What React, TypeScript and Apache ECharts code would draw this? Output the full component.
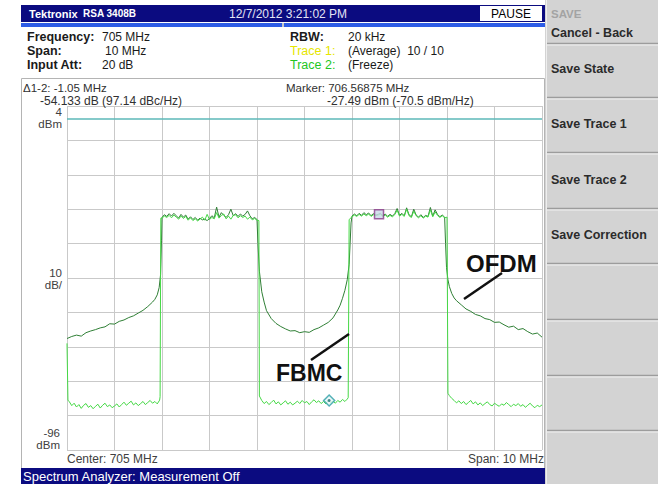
import React, { useEffect, useRef } from "react";
import * as echarts from "echarts";

type Pt = [number, number];

// ---- axes ----
const FREQ_MIN = 700;
const FREQ_MAX = 710;
const FREQ_DIV = 1;
const AMP_TOP = 4;
const AMP_BOTTOM = -96;
const AMP_DIVS = 10;
const REF_LEVEL = 0.4;

const yTickLabels = [["4", "dBm"], ["10", "dB/"], ["-96", "dBm"]];
const footerLabels = ["Center: 705 MHz", "Span: 10 MHz"];

// ---- header texts ----
const titleTexts = ["Tektronix", "RSA 3408B", "12/7/2012 3:21:02 PM", "PAUSE"];
const headerLeft = [["Frequency:", "705 MHz"], ["Span:", "10 MHz"], ["Input Att:", "20 dB"]];
const headerRight = [["RBW:", "20 kHz"], ["Trace 1:", "(Average)  10 / 10"], ["Trace 2:", "(Freeze)"]];
const markerTexts = ["\u03941-2: -1.05 MHz", "-54.133 dB (97.14 dBc/Hz)", "Marker: 706.56875 MHz", "-27.49 dBm (-70.5 dBm/Hz)"];
const softKeyTitle = "SAVE";
const softKeys = ["Cancel - Back", "Save State", "Save Trace 1", "Save Trace 2", "Save Correction"];
const statusText = "Spectrum Analyzer: Measurement Off";
const annotations = ["OFDM", "FBMC"];

// ---- markers (MHz, dBm) ----
const marker1: Pt = [706.56875, -27.49];
const marker2: Pt = [705.51875, -81.623];

// ---- OFDM trace (Trace 1, average) ----
const ofdmLeftSkirt: Pt[] = [
  [700.0, -63.6], [700.1, -63.0], [700.2, -62.6], [700.3, -62.9], [700.4, -61.9], [700.5, -61.4],
  [700.6, -61.0], [700.7, -60.5], [700.8, -60.2], [700.9, -59.3], [701.0, -59.4], [701.1, -58.6],
  [701.2, -58.2], [701.3, -57.5], [701.4, -57.0], [701.5, -56.2], [701.6, -55.4], [701.7, -54.3],
  [701.8, -53.0], [701.85, -52.2], [701.9, -50.9], [701.94, -48.8], [701.97, -45.0], [701.99, -35.0],
];
const ofdmBand1: Pt[] = [
  [702.0, -28.4], [702.05, -27.6], [702.1, -28.1], [702.15, -27.3], [702.2, -28.0], [702.25, -27.2],
  [702.3, -27.9], [702.35, -28.6], [702.4, -27.5], [702.45, -28.3], [702.5, -27.7], [702.55, -28.9],
  [702.6, -28.2], [702.65, -29.0], [702.7, -28.4], [702.75, -29.2], [702.8, -28.6], [702.85, -29.1],
  [702.9, -28.9], [702.95, -29.3], [703.0, -28.7], [703.05, -27.9], [703.1, -28.5], [703.15, -25.4],
  [703.2, -28.3], [703.25, -27.0], [703.3, -27.8], [703.35, -28.4], [703.4, -27.6], [703.45, -26.0],
  [703.5, -27.9], [703.55, -27.3], [703.6, -28.1], [703.65, -27.4], [703.7, -28.0], [703.75, -27.5],
  [703.8, -26.5], [703.85, -27.9], [703.9, -28.8], [703.95, -28.4], [704.0, -29.0],
];
const ofdmGap: Pt[] = [
  [704.02, -36.0], [704.05, -44.0], [704.1, -50.0], [704.15, -53.0], [704.2, -55.5], [704.3, -57.8],
  [704.4, -59.2], [704.5, -60.1], [704.6, -60.8], [704.7, -61.4], [704.8, -61.3], [704.9, -61.9],
  [705.0, -61.6], [705.1, -61.8], [705.2, -61.0], [705.3, -60.5], [705.4, -59.7], [705.5, -58.9],
  [705.6, -57.6], [705.7, -55.3], [705.75, -53.9], [705.8, -51.9], [705.85, -49.6], [705.9, -46.5],
  [705.94, -42.0], [705.96, -36.0], [705.98, -30.0],
];
const ofdmBand2: Pt[] = [
  [706.0, -28.0], [706.05, -27.4], [706.1, -27.9], [706.15, -27.2], [706.2, -27.8], [706.25, -27.0],
  [706.3, -27.6], [706.35, -27.1], [706.4, -27.9], [706.45, -27.3], [706.5, -27.7], [706.55, -27.5],
  [706.6, -27.2], [706.65, -27.9], [706.7, -27.4], [706.75, -28.1], [706.8, -27.5], [706.85, -28.0],
  [706.9, -27.3], [706.95, -25.8], [707.0, -27.8], [707.05, -27.2], [707.1, -27.9], [707.15, -25.6],
  [707.2, -27.6], [707.25, -28.2], [707.3, -26.0], [707.35, -27.7], [707.4, -28.3], [707.45, -27.6],
  [707.5, -28.4], [707.55, -27.8], [707.6, -28.1], [707.65, -25.5], [707.7, -28.0], [707.75, -26.2],
  [707.8, -27.5], [707.85, -28.2], [707.9, -27.7], [707.95, -28.3],
];
const ofdmRightSkirt: Pt[] = [
  [707.97, -36.0], [707.99, -43.0], [708.02, -46.5], [708.05, -48.5], [708.1, -50.5], [708.15, -51.8],
  [708.2, -52.6], [708.3, -53.8], [708.4, -55.0], [708.5, -55.7], [708.6, -56.6], [708.7, -57.0],
  [708.8, -57.8], [708.9, -58.1], [709.0, -58.9], [709.1, -58.8], [709.2, -59.6], [709.3, -60.3],
  [709.4, -60.0], [709.5, -61.0], [709.6, -60.7], [709.7, -61.6], [709.8, -62.3], [709.9, -62.0],
  [710.0, -63.2],
];

// ---- FBMC trace (Trace 2, freeze) ----
const fbmcLeftFloor: Pt[] = [
  [700.0, -65.0], [700.02, -81.5], [700.05, -82.0], [700.1, -83.1], [700.15, -82.4], [700.2, -83.5],
  [700.25, -82.8], [700.3, -83.9], [700.35, -83.0], [700.4, -82.5], [700.45, -83.6], [700.5, -83.1],
  [700.55, -84.0], [700.6, -83.3], [700.65, -82.7], [700.7, -83.8], [700.75, -83.0], [700.8, -82.4],
  [700.85, -83.4], [700.9, -82.9], [700.95, -83.7], [701.0, -83.2], [701.05, -82.6], [701.1, -83.5],
  [701.15, -82.8], [701.2, -82.1], [701.25, -83.0], [701.3, -82.4], [701.35, -81.8], [701.4, -82.9],
  [701.45, -82.3], [701.5, -83.1], [701.55, -82.5], [701.6, -81.9], [701.65, -82.8], [701.7, -82.2],
  [701.75, -81.6], [701.8, -82.4], [701.85, -81.9], [701.9, -82.6], [701.95, -81.5], [701.96, -80.5],
];
const fbmcBand1: Pt[] = [
  [701.975, -28.6], [702.0, -28.6], [702.05, -28.0], [702.1, -28.4], [702.15, -27.8], [702.2, -28.5],
  [702.25, -27.7], [702.3, -28.3], [702.35, -28.9], [702.4, -28.0], [702.45, -28.7], [702.5, -28.1],
  [702.55, -29.2], [702.6, -28.5], [702.65, -29.3], [702.7, -28.8], [702.75, -29.4], [702.8, -28.9],
  [702.85, -28.3], [702.9, -29.2], [702.95, -27.5], [703.0, -29.0], [703.05, -28.4], [703.1, -28.8],
  [703.15, -27.0], [703.2, -28.6], [703.25, -27.8], [703.3, -27.4], [703.35, -28.8], [703.4, -28.0],
  [703.45, -28.9], [703.5, -27.8], [703.55, -27.6], [703.6, -28.5], [703.65, -27.9], [703.7, -28.4],
  [703.75, -28.0], [703.8, -28.9], [703.85, -28.3], [703.9, -29.1], [703.95, -28.7], [704.0, -29.2],
  [704.04, -29.3],
];
const fbmcMidFloor: Pt[] = [
  [704.05, -80.3], [704.1, -81.6], [704.15, -82.5], [704.2, -81.9], [704.25, -82.8], [704.3, -82.2],
  [704.35, -81.5], [704.4, -82.6], [704.45, -82.0], [704.5, -82.9], [704.55, -82.3], [704.6, -81.7],
  [704.65, -82.7], [704.7, -82.1], [704.75, -82.9], [704.8, -82.4], [704.85, -81.8], [704.9, -82.5],
  [704.95, -81.6], [705.0, -82.3], [705.05, -81.9], [705.1, -82.8], [705.15, -82.0], [705.2, -81.4],
  [705.25, -82.2], [705.3, -81.7], [705.35, -82.5], [705.4, -81.9], [705.45, -82.6], [705.5, -81.5],
  [705.55, -82.2], [705.6, -81.8], [705.65, -82.4], [705.7, -81.6], [705.75, -82.1], [705.8, -81.3],
  [705.85, -81.9], [705.9, -81.2], [705.92, -80.8],
];
const fbmcBand2: Pt[] = [
  [705.94, -29.0], [706.0, -28.2], [706.05, -27.7], [706.1, -28.1], [706.15, -27.5], [706.2, -28.0],
  [706.25, -27.4], [706.3, -27.9], [706.35, -27.4], [706.4, -28.1], [706.45, -27.6], [706.5, -27.9],
  [706.55, -27.7], [706.6, -27.5], [706.65, -28.1], [706.7, -27.7], [706.75, -28.3], [706.8, -27.8],
  [706.85, -28.2], [706.9, -27.6], [706.95, -26.3], [707.0, -28.0], [707.05, -27.5], [707.1, -28.1],
  [707.15, -26.0], [707.2, -27.9], [707.25, -28.4], [707.3, -26.6], [707.35, -27.9], [707.4, -28.5],
  [707.45, -27.9], [707.5, -28.6], [707.55, -28.0], [707.6, -28.3], [707.65, -26.2], [707.7, -28.2],
  [707.75, -26.8], [707.8, -27.8], [707.85, -28.4], [707.9, -27.9], [707.95, -28.5], [708.0, -28.3],
];
const fbmcRightFloor: Pt[] = [
  [708.02, -79.5], [708.05, -80.2], [708.1, -81.0], [708.15, -81.6], [708.2, -82.3], [708.25, -81.7],
  [708.3, -82.5], [708.35, -81.9], [708.4, -82.8], [708.45, -82.2], [708.5, -81.6], [708.55, -82.6],
  [708.6, -82.0], [708.65, -82.9], [708.7, -82.3], [708.75, -83.1], [708.8, -82.5], [708.85, -82.0],
  [708.9, -82.8], [708.95, -83.2], [709.0, -82.4], [709.05, -82.9], [709.1, -83.3], [709.15, -82.6],
  [709.2, -83.0], [709.25, -82.2], [709.3, -82.8], [709.35, -83.4], [709.4, -82.7], [709.45, -83.1],
  [709.5, -82.5], [709.55, -83.3], [709.6, -82.8], [709.65, -83.6], [709.7, -83.0], [709.75, -82.4],
  [709.8, -83.2], [709.85, -83.7], [709.9, -83.0], [709.95, -83.4], [710.0, -82.9],
];

const ofdmTrace: Pt[] = [...ofdmLeftSkirt, ...ofdmBand1, ...ofdmGap, ...ofdmBand2, ...ofdmRightSkirt];
const fbmcTrace: Pt[] = [...fbmcLeftFloor, ...fbmcBand1, ...fbmcMidFloor, ...fbmcBand2, ...fbmcRightFloor];

// ---- styling ----
const FONT = "'Liberation Sans', Arial, sans-serif";
const NAVY = "#0b0b80";
const GRID_COLOR = "#c9c9c9";
const OFDM_COLOR = "#2f7f35";
const FBMC_COLOR = "#45d845";

function txt(x: number, y: number, text: string, size: number, fill: string, opts: any = {}) {
  return {
    type: "text",
    x,
    y,
    z: opts.z ?? 50,
    silent: true,
    style: {
      text,
      fill,
      font: `${opts.bold ? "bold " : ""}${size}px ${opts.font ?? FONT}`,
      textAlign: opts.align ?? "left",
      textVerticalAlign: "middle",
    },
  };
}

function rect(x: number, y: number, w: number, h: number, fill: string, z = 1, stroke?: string) {
  return {
    type: "rect",
    z,
    silent: true,
    shape: { x, y, width: w, height: h },
    style: { fill, stroke: stroke ?? "none", lineWidth: 1 },
  };
}

function hline(x1: number, x2: number, y: number, color: string, w = 1, z = 2) {
  return { type: "line", z, silent: true, shape: { x1, y1: y, x2, y2: y }, style: { stroke: color, lineWidth: w } };
}

function buildGraphics() {
  const g: any[] = [];
  // right soft-key panel
  g.push(rect(545, 0, 113, 484, "#d3d3d3", 1));
  g.push({ type: "line", z: 2, silent: true, shape: { x1: 546.5, y1: 0, x2: 546.5, y2: 484 }, style: { stroke: "#eeeeee", lineWidth: 1 } });
  g.push(txt(551, 14, softKeyTitle, 11.5, "#a3a3a3", { bold: true }));
  const sepY = [43, 97, 152, 208, 263, 319, 375, 430];
  sepY.forEach((y) => {
    g.push(hline(547, 658, y + 0.5, "#9c9c9c", 1.5));
    g.push(hline(547, 658, y + 2, "#f2f2f2", 1));
  });
  const keyY = [33, 69, 124, 180, 235];
  softKeys.forEach((k, i) => g.push(txt(551, keyY[i], k, 12.5, "#2b2b2b", { bold: true })));

  // title bar
  g.push(rect(21, 5, 524, 17, NAVY, 2));
  g.push(rect(21, 23, 524, 4, "#2d5ce6", 2));
  g.push(rect(282, 23, 2, 4, "#c8c8c8", 3));
  g.push(txt(29, 13.5, titleTexts[0], 11, "#ffffff", { bold: true }));
  g.push(txt(83, 13.5, titleTexts[1], 10, "#ffffff", { bold: true }));
  g.push(txt(229, 13.5, titleTexts[2], 12, "#e4e4f4"));
  g.push(rect(480, 6, 62, 15, "#ffffff", 3));
  g.push(txt(511, 13.5, titleTexts[3], 12, "#000000", { align: "center" }));

  // header parameters
  const rowY = [37, 51, 65];
  const valX = [102, 105, 102];
  headerLeft.forEach(([k, v], i) => {
    g.push(txt(27, rowY[i], k, 12.5, "#1a1a1a", { bold: true }));
    g.push(txt(valX[i], rowY[i], v, 12, "#1a1a1a"));
  });
  const rightKeyColor = ["#1a1a1a", "#e6e600", "#22c622"];
  headerRight.forEach(([k, v], i) => {
    g.push(txt(290, rowY[i], k, 12.5, rightKeyColor[i], { bold: i === 0 }));
    g.push(txt(348, rowY[i], v, 12, "#1a1a1a"));
  });

  // plot panel frame
  g.push({ type: "rect", z: 2, silent: true, shape: { x: 21.5, y: 78.5, width: 523, height: 390 }, style: { fill: "none", stroke: "#b4b4b4", lineWidth: 1 } });
  g.push(txt(23, 87.5, markerTexts[0], 11.5, "#303030"));
  g.push(txt(40, 100.5, markerTexts[1], 12, "#303030"));
  g.push(txt(286, 87.5, markerTexts[2], 11.5, "#303030"));
  g.push(txt(327, 100.5, markerTexts[3], 12, "#303030"));

  // y tick labels
  g.push(txt(62, 112, yTickLabels[0][0], 11.5, "#404040", { align: "right" }));
  g.push(txt(62, 124, yTickLabels[0][1], 11.5, "#404040", { align: "right" }));
  g.push(txt(62, 273, yTickLabels[1][0], 11.5, "#404040", { align: "right" }));
  g.push(txt(62, 285, yTickLabels[1][1], 11.5, "#404040", { align: "right" }));
  g.push(txt(60, 433, yTickLabels[2][0], 11.5, "#404040", { align: "right" }));
  g.push(txt(60, 445, yTickLabels[2][1], 11.5, "#404040", { align: "right" }));
  g.push(txt(67, 459, footerLabels[0], 12, "#404040"));
  g.push(txt(544, 459, footerLabels[1], 12, "#404040", { align: "right" }));

  // status bar
  g.push(rect(21, 468, 524, 16, NAVY, 2));
  g.push(txt(23, 476.5, statusText, 13, "#ffffff"));

  // annotations
  g.push({ type: "line", z: 100, silent: true, shape: { x1: 464, y1: 299, x2: 502, y2: 273 }, style: { stroke: "#111111", lineWidth: 2.5 } });
  g.push(txt(466, 263, annotations[0], 24, "#111111", { bold: true, z: 100 }));
  g.push({ type: "line", z: 100, silent: true, shape: { x1: 311, y1: 360, x2: 349, y2: 334 }, style: { stroke: "#111111", lineWidth: 2.5 } });
  g.push(txt(276, 373, annotations[1], 23, "#111111", { bold: true, z: 100 }));
  return g;
}

export default function App() {
  const ref = useRef<HTMLDivElement>(null);
  useEffect(() => {
    if (!ref.current) return;
    const chart = echarts.init(ref.current, undefined, { renderer: "svg" });
    chart.setOption({
      animation: false,
      backgroundColor: "#ffffff",
      grid: { left: 67, top: 106, width: 475, height: 344, show: false },
      xAxis: {
        type: "value",
        min: FREQ_MIN,
        max: FREQ_MAX,
        interval: FREQ_DIV,
        axisLine: { show: false },
        axisTick: { show: false },
        axisLabel: { show: false },
        splitLine: { show: true, lineStyle: { color: GRID_COLOR, width: 1 } },
      },
      yAxis: [
        { type: "value", min: AMP_BOTTOM, max: AMP_TOP, show: false },
        {
          type: "value",
          min: 0,
          max: AMP_DIVS,
          interval: 1,
          position: "left",
          axisLine: { show: false },
          axisTick: { show: false },
          axisLabel: { show: false },
          splitLine: { show: true, lineStyle: { color: GRID_COLOR, width: 1 } },
        },
      ],
      series: [
        {
          type: "line",
          name: "OFDM",
          data: ofdmTrace,
          yAxisIndex: 0,
          symbol: "none",
          lineStyle: { color: OFDM_COLOR, width: 1 },
          z: 3,
          markLine: {
            silent: true,
            symbol: ["none", "none"],
            label: { show: false },
            lineStyle: { color: "#5db8b8", width: 1.5, type: "solid" },
            data: [{ yAxis: REF_LEVEL }],
          },
        },
        {
          type: "line",
          name: "FBMC",
          data: fbmcTrace,
          yAxisIndex: 0,
          symbol: "none",
          lineStyle: { color: FBMC_COLOR, width: 1 },
          z: 4,
        },
        {
          type: "scatter",
          data: [marker1],
          yAxisIndex: 0,
          symbol: "rect",
          symbolSize: 9,
          itemStyle: { color: "#c9d7e8", borderColor: "#8a3a8a", borderWidth: 1.5 },
          z: 6,
        },
        {
          type: "scatter",
          data: [marker2],
          yAxisIndex: 0,
          symbol: "diamond",
          symbolSize: 11,
          itemStyle: { color: "#e6f7f7", borderColor: "#2a9da5", borderWidth: 1.5 },
          z: 6,
        },
        {
          type: "scatter",
          data: [marker2],
          yAxisIndex: 0,
          symbol: "circle",
          symbolSize: 3,
          itemStyle: { color: "#1d6e74" },
          z: 7,
        },
      ],
      graphic: buildGraphics(),
    });
    return () => chart.dispose();
  }, []);
  return (
    <div
      ref={ref}
      style={{ position: "absolute", left: 0, top: 0, width: 658, height: 484, background: "#ffffff" }}
    />
  );
}
